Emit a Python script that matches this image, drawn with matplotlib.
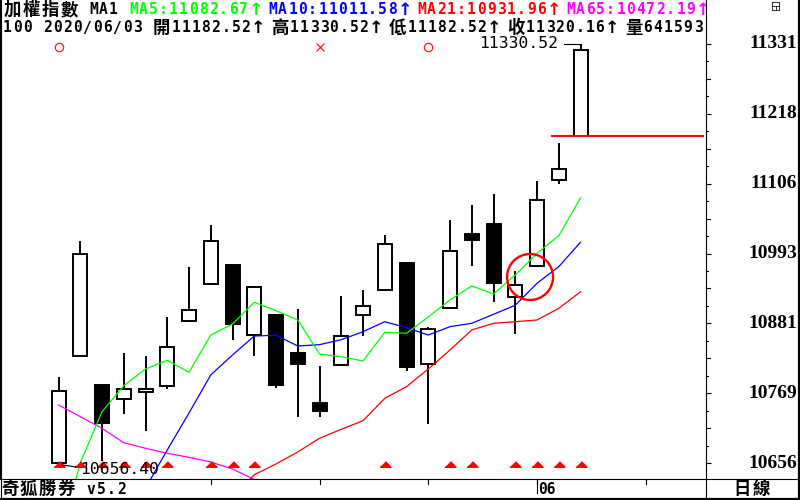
import matplotlib
matplotlib.use("Agg")
import matplotlib.pyplot as plt
import matplotlib.transforms as mtransforms
from matplotlib.lines import Line2D
from matplotlib.patches import Ellipse, Rectangle
import numpy as np
import pandas as pd

# daily candles, 加權指數
dates = [
    "2020/04/29", "2020/04/30", "2020/05/04", "2020/05/05", "2020/05/06",
    "2020/05/07", "2020/05/08", "2020/05/11", "2020/05/12", "2020/05/13",
    "2020/05/14", "2020/05/15", "2020/05/18", "2020/05/19", "2020/05/20",
    "2020/05/21", "2020/05/22", "2020/05/25", "2020/05/26", "2020/05/27",
    "2020/05/28", "2020/05/29", "2020/06/01", "2020/06/02", "2020/06/03",
]
opens = [10656.40, 10828.3, 10782.2, 10759.2, 10771.4, 10780.1, 10884.5, 10944.0,
         10975.0, 10862.1, 10894.7, 10833.6, 10753.3, 10813.9, 10894.2, 10934.4,
         10977.7, 10815.5, 10905.4, 11024.8, 11040.9, 10923.1, 10972.9, 11111.1,
         11182.52]
highs = [10795.1, 11013.6, 10782.2, 10833.6, 10828.8, 10891.5, 10971.8, 11039.3,
         10975.0, 10939.2, 10894.7, 10904.3, 10812.7, 10925.2, 10934.8, 11023.2,
         10977.7, 10875.4, 11047.3, 11071.4, 11089.1, 10965.8, 11110.0, 11170.5,
         11330.52]
lows = [10656.40, 10828.3, 10660.0, 10736.1, 10708.8, 10776.3, 10884.5, 10944.0,
        10855.0, 10829.3, 10777.9, 10731.3, 10731.3, 10813.9, 10861.4, 10934.4,
        10805.2, 10720.0, 10905.4, 10973.9, 10916.0, 10863.7, 10972.9, 11104.7,
        11182.52]
closes = [10772.1, 10992.2, 10721.6, 10775.3, 10775.3, 10842.8, 10902.2, 11013.1,
          10880.7, 10939.2, 10782.7, 10816.4, 10740.9, 10860.4, 10908.6, 11008.3,
          10811.6, 10871.7, 10997.0, 11015.7, 10945.6, 10942.4, 11079.0, 11128.8,
          11320.16]
volume = 641593

nan = np.nan
ma5 = [10527.0, 10657.0, 10739.3, 10781.1, 10807.9, 10821.9, 10802.6, 10862.5,
       10880.2, 10915.1, 10901.6, 10886.6, 10832.0, 10827.7, 10820.8, 10866.9,
       10865.3, 10891.5, 10918.8, 10941.3, 10928.4, 10958.9, 10993.8, 11022.1,
       11082.67]
ma10 = [nan, nan, nan, nan, 10616.7, 10677.8, 10737.2, 10798.3, 10830.4, 10860.9,
        10862.1, 10844.9, 10847.0, 10855.0, 10867.8, 10883.9, 10874.3, 10862.5,
        10875.9, 10881.3, 10895.8, 10910.3, 10945.6, 10972.3, 11011.58]
ma21 = [nan, nan, nan, nan, nan, nan, nan, nan, 10600.0, 10638.0, 10655.3, 10674.6,
        10696.6, 10711.0, 10724.8, 10760.8, 10779.5, 10807.9, 10838.4, 10870.6,
        10881.3, 10883.9, 10886.6, 10905.4, 10931.96]
ma65 = [10750.1, 10731.3, 10712.6, 10689.5, 10680.5, 10672.5, 10666.0, 10658.5,
        10647.2, 10630.4, nan, nan, nan, nan, nan, nan, nan, nan, nan, nan, nan,
        nan, nan, nan, 10472.19]

# signal marks
buy_marks = [0, 1, 2, 3, 4, 5, 7, 8, 9, 15, 18, 19, 21, 22, 23, 24]
circle_marks = [0, 17]
cross_marks = [12]
gap_level = 11182.52

GREEN, BLUE, RED, MAGENTA = "#00ff00", "#0000ff", "#ff0000", "#ff00ff"
W, H = 800, 500
MONO = "DejaVu Sans Mono"
CJK = "Noto Sans CJK TC"
NAME_BOX_END = 130  # px, the software name covers the date strip up to here

fig = plt.figure(figsize=(W / 100, H / 100), dpi=100)
fig.patch.set_facecolor("white")
# image pixel coords, y going down
px = mtransforms.Affine2D().scale(1 / W, -1 / H).translate(0, 1) + fig.transFigure

ax = fig.add_axes([0, 21 / H, 706 / W, 479 / H])
n = len(dates)
idx = np.arange(n)
lo, hi = min(lows), max(highs)
span = hi - lo
ymin = lo - span * 15.7 / 419.6
ymax = hi + span * 43.7 / 419.6
xmin, xmax = -2.69, 29.77
ax.set_xlim(xmin, xmax)
ax.set_ylim(ymin, ymax)
ppx = 706 / (xmax - xmin)   # pixels per candle
ppy = 479 / (ymax - ymin)   # pixels per point

ax.spines["top"].set_visible(False)
for s in ["left", "right", "bottom"]:
    ax.spines[s].set_linewidth(0.8)

bx = mtransforms.blended_transform_factory(ax.transData, px)
by = mtransforms.blended_transform_factory(px, ax.transData)

# candles
bw = 14 / ppx
for i in range(n):
    o, h, l, c = opens[i], highs[i], lows[i], closes[i]
    ax.vlines(i, l, h, color="black", lw=1.4, zorder=2)
    up = c >= o
    ax.add_patch(Rectangle((i - bw / 2, min(o, c)), bw, max(abs(c - o), 1.0),
                           facecolor="white" if up else "black",
                           edgecolor="black", lw=1.4, zorder=3))

ax.plot(idx, ma65, color=MAGENTA, lw=0.9, zorder=4)
ax.plot(idx, ma21, color=RED, lw=0.9, zorder=4)
ax.plot(idx, ma10, color=BLUE, lw=0.9, zorder=4)
ax.plot(idx, ma5, color=GREEN, lw=0.9, zorder=4)

tri = [(-1, -0.5), (1, -0.5), (0, 0.5)]
ax.plot(buy_marks, [464] * len(buy_marks), transform=bx, ls="none", marker=tri,
        ms=8, color=RED, mec=RED, zorder=5)
ax.plot(circle_marks, [47] * len(circle_marks), transform=bx, ls="none", marker="o",
        ms=6, mfc="none", mec=RED, mew=0.8, zorder=5)
ax.plot(cross_marks, [47] * len(cross_marks), transform=bx, ls="none", marker="x",
        ms=6, mec=RED, mew=0.8, zorder=5)

# gap line and highlight circle
ax.plot([n - 2 - 0.3, xmax - 0.14], [gap_level, gap_level], color=RED, lw=1.5, zorder=5)
ax.add_patch(Ellipse((21.68, 10955.7), 46 / ppx, 46 / ppy, fill=False,
                     edgecolor=RED, lw=1.7, zorder=6))

# high / low labels
i_hi = int(np.argmax(highs))
i_lo = int(np.argmin(lows))
ax.plot([i_hi - 17 / ppx, i_hi], [hi, hi], color="black", lw=0.8, zorder=5)
ax.text(i_hi - 22 / ppx, hi, f"{hi:.2f}", ha="right", va="center", family=MONO,
        size=11.8, color="black", zorder=6)
ax.plot([i_lo + 4.5 / ppx, i_lo + 17.5 / ppx], [lo - 1.7 / ppy, lo - 3.7 / ppy],
        color="black", lw=0.8, zorder=5)
ax.text(i_lo + 21.5 / ppx, lo - 6 / ppy, f"{lo:.2f}", ha="left", va="center",
        family=MONO, size=11.8, color="black", zorder=6)


def grid_text(x0, y, segments, size=10.5, cjk_size=12.5, weight="bold", clip=False):
    x = x0
    for text, color in segments:
        for ch in text:
            wide = ord(ch) > 0x2000
            w = 19 if wide else 10
            if ch == "↑":
                ax.text(x + 7, y, ch, transform=px, ha="center", va="center",
                        color=color, family="DejaVu Sans", size=12.5,
                        fontweight="bold", clip_on=clip, zorder=7)
            elif ch != " ":
                is_cjk = ord(ch) > 0x2E80
                ax.text(x + w / 2, y, ch, transform=px, ha="center", va="center",
                        color=color, family=CJK if is_cjk else MONO,
                        size=cjk_size if is_cjk else size, fontweight=weight,
                        clip_on=clip, zorder=7)
            x += w


grid_text(2.5, 10, [("加權指數 MA1 ", "black"),
                    (f"MA5:{ma5[-1]:.2f}↑", GREEN),
                    (f"MA10:{ma10[-1]:.2f}↑", BLUE),
                    (f"MA21:{ma21[-1]:.2f}↑", RED),
                    (f"MA65:{ma65[-1]:.2f}↑", MAGENTA)], clip=True)
grid_text(2, 28, [(f"100 {dates[-1]} 開{opens[-1]:.2f}↑高{highs[-1]:.2f}↑"
                   f"低{lows[-1]:.2f}↑收{closes[-1]:.2f}↑量{volume}", "black")],
          clip=True)

# right price scale
levels = np.linspace(lo, hi, 7)
ax.yaxis.tick_right()
ax.set_yticks(levels)
ax.set_yticklabels([])
ax.tick_params(axis="y", direction="out", length=3.6, width=0.8)
ax.set_xticks([])
for lv in levels:
    ax.text(797, lv, f"{lv:.0f}", transform=by, ha="right", va="center",
            family="Liberation Serif", fontweight="bold", size=14, clip_on=False)
step = levels[1] - levels[0]
for lv in levels[:-1]:
    for k, ln in [(1, 1), (2, 3), (3, 1)]:
        yv = lv + step * k / 4
        ax.plot([707, 707 + ln], [yv, yv], transform=by, color="black", lw=0.8,
                clip_on=False)

# date ticks, one per week, month start gets a label
d = pd.to_datetime(dates)
future = pd.bdate_range(d[-1] + pd.Timedelta(days=1), periods=6)
all_days = list(d) + list(future)
tx = mtransforms.offset_copy(bx, fig, x=1.5, y=0, units="dots")
for i, day in enumerate(all_days):
    if (i - xmin) * ppx < NAME_BOX_END:
        continue
    if day.weekday() == 0:
        ax.plot([i, i], [479, 483.5], transform=bx, color="black", lw=0.8, clip_on=False)
    if i > 0 and day.month != all_days[i - 1].month:
        ax.plot([i, i], [479, 493], transform=bx, color="black", lw=0.8, clip_on=False)
        ax.text(i, 489, f"{day.month:02d}", transform=tx, ha="left", va="center",
                family=MONO, size=10.5, fontweight="bold", clip_on=False)

grid_text(0, 489, [("奇狐勝券 v5.2", "black")])
grid_text(733, 489, [("日線", "black")])

# frame lines
frame = [
    ([706, 800], [479, 479], 1.1),
    ([706, 706], [479, 499], 1.1),
    ([0.5, 0.5], [0, 500], 1.1),
    ([799, 799], [0, 500], 2.2),
    ([0, 800], [499, 499], 2.2),
    # small window icon
    ([772, 779, 779, 772, 772], [2, 2, 10, 10, 2], 0.8),
    ([772, 779], [6, 6], 0.8),
    ([776, 776], [6, 10], 0.8),
]
for xs, ys, lw in frame:
    fig.add_artist(Line2D(xs, ys, transform=px, color="black", lw=lw * 0.72))

fig.savefig("out.png", dpi=100)
